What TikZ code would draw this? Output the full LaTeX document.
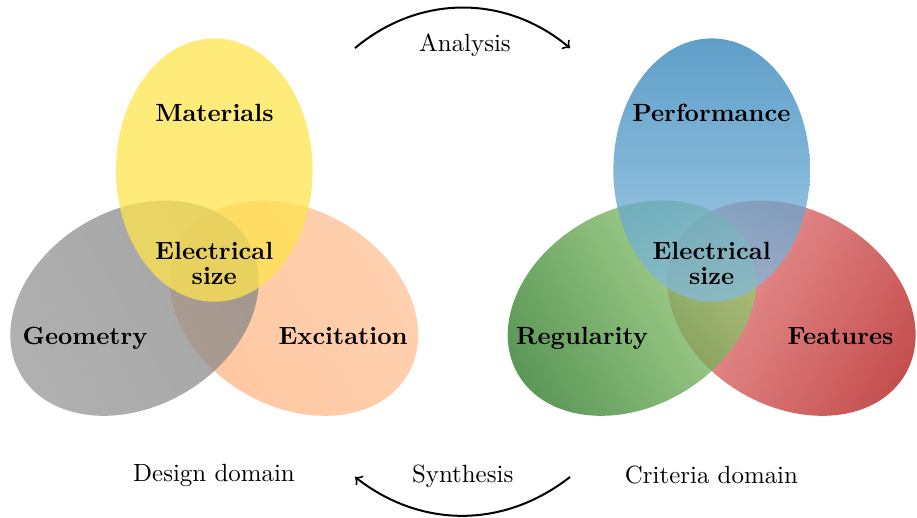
\documentclass[tikz,border=0pt]{standalone}
\usepackage{xcolor}
\usepackage{tikz}
\usetikzlibrary{arrows,positioning,calc}

\definecolor{matyellow}{RGB}{255,228,78}
\definecolor{geodark}{RGB}{134,134,134}
\definecolor{geolight}{RGB}{150,150,150}
\definecolor{excdark}{RGB}{255,180,130}
\definecolor{exclight}{RGB}{255,194,150}
\definecolor{perfdark}{RGB}{42,126,182}
\definecolor{perflight}{RGB}{135,188,222}
\definecolor{regdark}{RGB}{35,115,30}
\definecolor{reglight}{RGB}{158,212,120}
\definecolor{featdark}{RGB}{178,20,20}
\definecolor{featlight}{RGB}{234,130,130}

\begin{document}
\begin{tikzpicture}[
    setlbl/.style={font=\bfseries, align=center},
    domlbl/.style={align=center},
    arr/.style={->, thick},
    venn/.style={fill opacity=0.75}
  ]
    \useasboundingbox (0,0) rectangle (12.946,7.299);
    % design domain
    \shade[venn, left color=excdark, right color=exclight, shading angle=120,
      rotate around={-30:(4.151,2.948)}] (4.151,2.948) ellipse (1.859 and 1.388);
    \shade[venn, left color=geolight, right color=geodark, shading angle=120,
      rotate around={30:(1.899,2.948)}] (1.899,2.948) ellipse (1.859 and 1.388);
    \fill[venn, matyellow] (3.025,4.898) ellipse (1.388 and 1.859);
    % criteria domain
    \shade[venn, left color=featlight, right color=featdark, shading angle=60,
      rotate around={-30:(11.173,2.948)}] (11.173,2.948) ellipse (1.859 and 1.388);
    \shade[venn, left color=regdark, right color=reglight, shading angle=120,
      rotate around={30:(8.921,2.948)}] (8.921,2.948) ellipse (1.859 and 1.388);
    \shade[venn, top color=perfdark, bottom color=perflight] (10.047,4.898) ellipse (1.388 and 1.859);

    \node[setlbl] (mat)  at (3.028,5.704) {Materials};
    \node[setlbl] (esd)  at (3.025,3.586) {Electrical\\[-2pt]size};
    \node[setlbl] (geo)  at (1.200,2.527) {Geometry};
    \node[setlbl] (exc)  at (4.843,2.548) {Excitation};
    \node[setlbl] (perf) at (10.042,5.710) {Performance};
    \node[setlbl] (esc)  at (10.047,3.586) {Electrical\\[-2pt]size};
    \node[setlbl] (reg)  at (8.217,2.527) {Regularity};
    \node[setlbl] (feat) at (11.866,2.548) {Features};
    \node[domlbl] (design)   at (3.021,0.586) {Design domain};
    \node[domlbl] (criteria) at (10.044,0.593) {Criteria domain};

    \coordinate (anS) at (5.012,6.620);
    \coordinate (anE) at (8.047,6.620);
    \coordinate (syS) at (8.047,0.565);
    \coordinate (syE) at (5.012,0.565);
    \draw[arr] (anS) to[bend left=40] (anE);
    \draw[arr] (syS) to[bend left=38] (syE);
    \node (ana) at (6.565,6.657) {Analysis};
    \node (syn) at (6.532,0.572) {Synthesis};
  \end{tikzpicture}
\end{document}
